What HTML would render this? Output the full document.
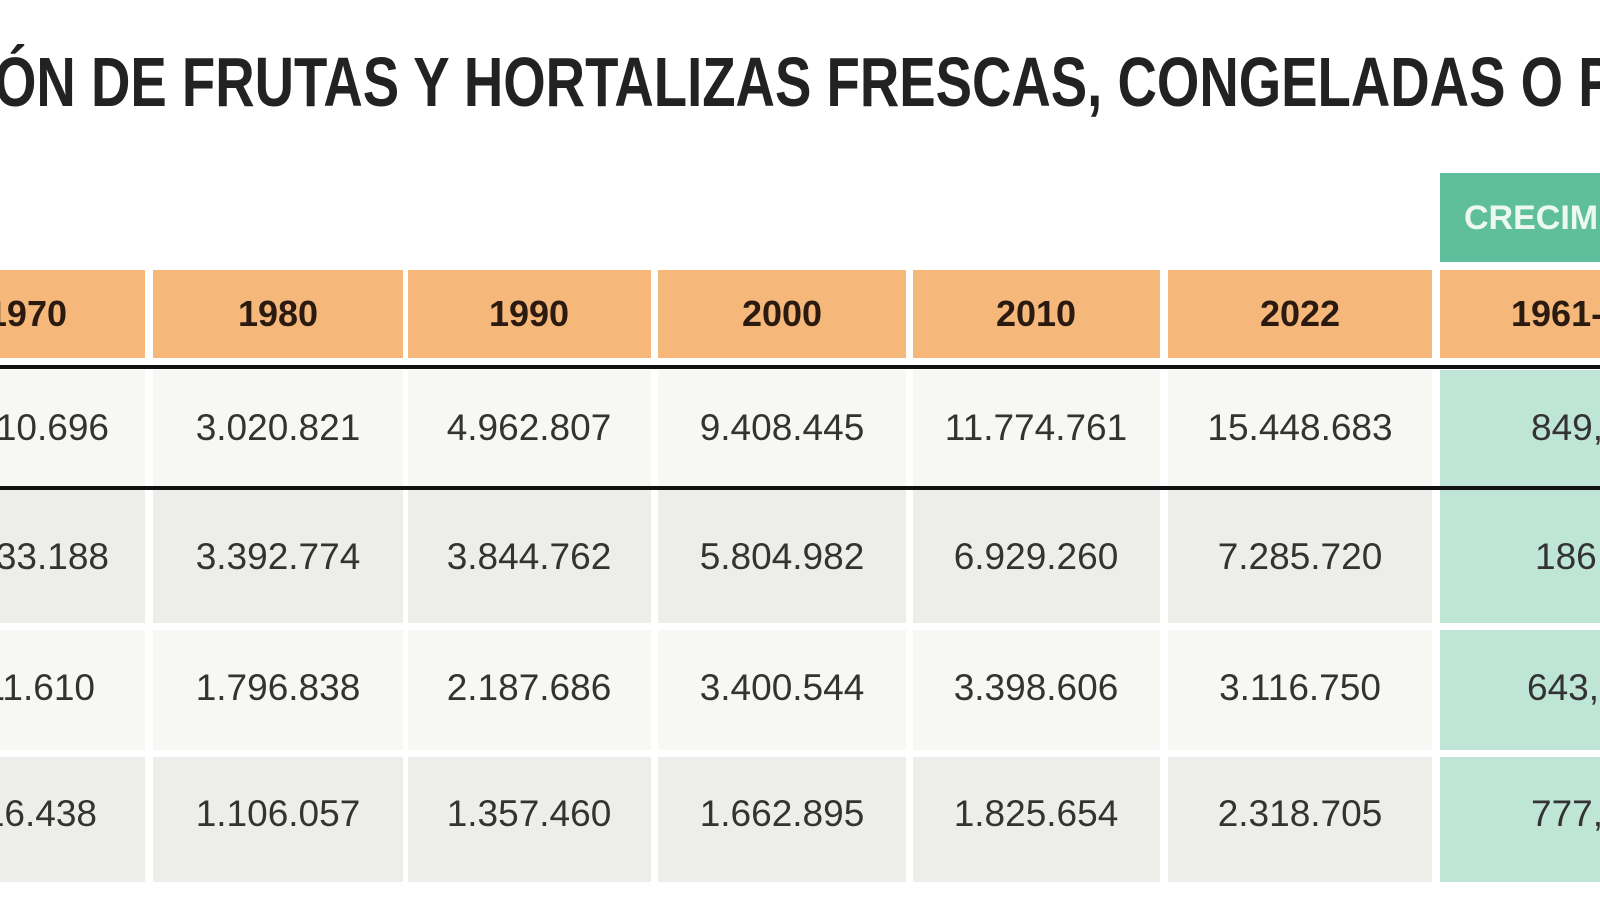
<!DOCTYPE html>
<html><head><meta charset="utf-8"><style>html,body{margin:0;padding:0;background:#fff;overflow:hidden}svg{display:block}</style></head><body>
<svg width="1600" height="900" viewBox="0 0 1600 900" xmlns="http://www.w3.org/2000/svg" font-family="Liberation Sans, sans-serif">
<rect width="1600" height="900" fill="#fff"/>
<text x="-6" y="106" font-size="70" font-weight="bold" fill="#222" textLength="1660" lengthAdjust="spacingAndGlyphs">ÓN DE FRUTAS Y HORTALIZAS FRESCAS, CONGELADAS O PR</text>
<rect x="1440" y="173" width="160" height="89" fill="#5fbf9c"/>
<text x="1464" y="229" font-size="34" font-weight="bold" fill="#eef8f3">CRECIMIENTO</text>
<g fill="#f5b77a">
<rect x="0" y="270" width="145" height="88"/><rect x="153" y="270" width="250" height="88"/><rect x="408" y="270" width="243" height="88"/><rect x="658" y="270" width="248" height="88"/><rect x="913" y="270" width="247" height="88"/><rect x="1168" y="270" width="264" height="88"/><rect x="1440" y="270" width="160" height="88"/>
</g>
<g font-size="36" font-weight="bold" fill="#2a1a10" text-anchor="middle">
<text x="67" y="326" text-anchor="end">1970</text><text x="278" y="326">1980</text><text x="529" y="326">1990</text><text x="782" y="326">2000</text><text x="1036" y="326">2010</text><text x="1300" y="326">2022</text>
<text x="1511" y="326" text-anchor="start">1961-2022</text>
</g>
<rect x="0" y="365" width="1600" height="4" fill="#111"/>
<rect x="0" y="486" width="1600" height="4" fill="#111"/>
<g>
<rect x="0" y="370" width="145" height="116" fill="#f7f7f3"/><rect x="153" y="370" width="250" height="116" fill="#f7f7f3"/><rect x="408" y="370" width="243" height="116" fill="#f7f7f3"/><rect x="658" y="370" width="248" height="116" fill="#f7f7f3"/><rect x="913" y="370" width="247" height="116" fill="#f7f7f3"/><rect x="1168" y="370" width="264" height="116" fill="#f7f7f3"/><rect x="1440" y="370" width="160" height="116" fill="#bfe5d6"/>
<rect x="0" y="490" width="145" height="133" fill="#ededea"/><rect x="153" y="490" width="250" height="133" fill="#ededea"/><rect x="408" y="490" width="243" height="133" fill="#ededea"/><rect x="658" y="490" width="248" height="133" fill="#ededea"/><rect x="913" y="490" width="247" height="133" fill="#ededea"/><rect x="1168" y="490" width="264" height="133" fill="#ededea"/><rect x="1440" y="490" width="160" height="133" fill="#bfe5d6"/>
<rect x="0" y="630" width="145" height="120" fill="#f7f7f3"/><rect x="153" y="630" width="250" height="120" fill="#f7f7f3"/><rect x="408" y="630" width="243" height="120" fill="#f7f7f3"/><rect x="658" y="630" width="248" height="120" fill="#f7f7f3"/><rect x="913" y="630" width="247" height="120" fill="#f7f7f3"/><rect x="1168" y="630" width="264" height="120" fill="#f7f7f3"/><rect x="1440" y="630" width="160" height="120" fill="#bfe5d6"/>
<rect x="0" y="757" width="145" height="125" fill="#ededea"/><rect x="153" y="757" width="250" height="125" fill="#ededea"/><rect x="408" y="757" width="243" height="125" fill="#ededea"/><rect x="658" y="757" width="248" height="125" fill="#ededea"/><rect x="913" y="757" width="247" height="125" fill="#ededea"/><rect x="1168" y="757" width="264" height="125" fill="#ededea"/><rect x="1440" y="757" width="160" height="125" fill="#bfe5d6"/>
</g>
<g font-size="37" fill="#333" text-anchor="middle">
<text x="109" y="440" text-anchor="end">2.010.696</text>
<text x="278" y="440">3.020.821</text><text x="529" y="440">4.962.807</text><text x="782" y="440">9.408.445</text><text x="1036" y="440">11.774.761</text><text x="1300" y="440">15.448.683</text>
<text x="1531" y="440" text-anchor="start">849,2%</text>
<text x="109" y="569" text-anchor="end">2.533.188</text>
<text x="278" y="569">3.392.774</text><text x="529" y="569">3.844.762</text><text x="782" y="569">5.804.982</text><text x="1036" y="569">6.929.260</text><text x="1300" y="569">7.285.720</text>
<text x="1535" y="569" text-anchor="start">186,5%</text>
<text x="95" y="700" text-anchor="end">1.411.610</text>
<text x="278" y="700">1.796.838</text><text x="529" y="700">2.187.686</text><text x="782" y="700">3.400.544</text><text x="1036" y="700">3.398.606</text><text x="1300" y="700">3.116.750</text>
<text x="1527" y="700" text-anchor="start">643,1%</text>
<text x="97" y="826" text-anchor="end">816.438</text>
<text x="278" y="826">1.106.057</text><text x="529" y="826">1.357.460</text><text x="782" y="826">1.662.895</text><text x="1036" y="826">1.825.654</text><text x="1300" y="826">2.318.705</text>
<text x="1531" y="826" text-anchor="start">777,4%</text>
</g>
</svg>
</body></html>
